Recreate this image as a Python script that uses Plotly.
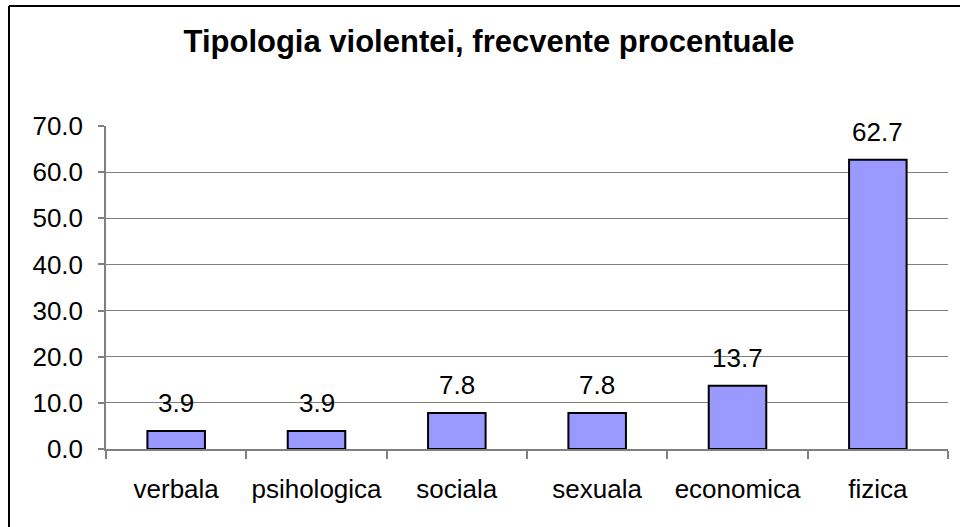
import plotly.graph_objects as go

categories = ["verbala", "psihologica", "sociala", "sexuala", "economica", "fizica"]
values = [3.9, 3.9, 7.8, 7.8, 13.7, 62.7]
y_ticks = [0, 10, 20, 30, 40, 50, 60, 70]

W, H = 960, 527
ml, mr, mt, mb = 106, 12, 126, 78
pw, ph = W - ml - mr, H - mt - mb


def px_x(p):
    return (p - ml) / pw


def px_y(p):
    return (H - mb - p) / ph


font = "Liberation Sans, Arial, sans-serif"

fig = go.Figure()
fig.add_trace(
    go.Bar(
        x=categories,
        y=values,
        marker=dict(color="#9999FF", line=dict(color="#000000", width=2)),
        width=0.41,
        hoverinfo="skip",
    )
)

# value labels above bars
for c, v in zip(categories, values):
    fig.add_annotation(
        x=c, y=v, text=f"{v:.1f}", showarrow=False,
        yanchor="bottom", yshift=11,
        font=dict(family=font, size=26, color="#000000"),
    )

# outer chart border (only left and top visible in the crop)
fig.add_shape(type="line", xref="paper", yref="paper",
              x0=px_x(9), x1=px_x(9), y0=px_y(H + 5), y1=px_y(6),
              line=dict(color="#000000", width=2))
fig.add_shape(type="line", xref="paper", yref="paper",
              x0=px_x(9), x1=px_x(W + 5), y0=px_y(6), y1=px_y(6),
              line=dict(color="#000000", width=2))

fig.update_layout(
    width=W, height=H,
    margin=dict(l=ml, r=mr, t=mt, b=mb, pad=0),
    paper_bgcolor="#FFFFFF", plot_bgcolor="#FFFFFF",
    showlegend=False,
    title=dict(
        text="<b>Tipologia violentei, frecvente procentuale</b>",
        x=px_x(489), xanchor="center", xref="paper",
        y=1 - 41 / H, yanchor="middle",
        font=dict(family=font, size=31, color="#000000"),
    ),
    font=dict(family=font, size=26, color="#000000"),
)

fig.update_xaxes(
    automargin=False,
    showgrid=False, showline=True, linecolor="#808080", linewidth=1.5,
    ticks="outside", tickson="boundaries", ticklen=8, tickcolor="#808080",
    tickwidth=1.5, ticklabelstandoff=16,
    tickfont=dict(family=font, size=26, color="#000000"),
)
fig.update_yaxes(
    automargin=False,
    range=[0, 70], tickvals=y_ticks, tickformat=".1f",
    showgrid=True, gridcolor="#808080", gridwidth=1.2,
    showline=True, linecolor="#808080", linewidth=1.5,
    ticks="outside", ticklen=6, tickcolor="#808080", tickwidth=1.5,
    ticklabelstandoff=10, zeroline=False,
    tickfont=dict(family=font, size=26, color="#000000"),
)

fig.write_html(
    "out.html",
    config={"displayModeBar": False},
    post_script="document.body.style.margin='0px';",
)
